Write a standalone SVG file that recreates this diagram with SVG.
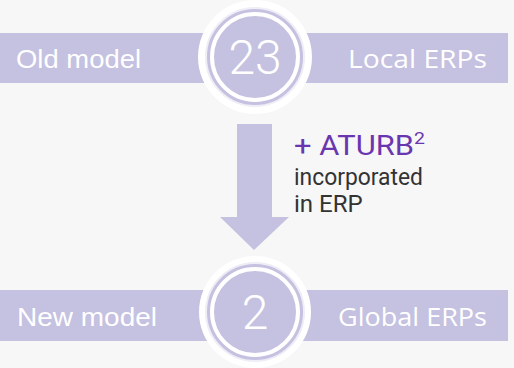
<svg xmlns="http://www.w3.org/2000/svg" width="514" height="368" viewBox="0 0 514 368">
<style>
.band{fill:#c5c1e0}
.lbl{font-family:"Liberation Sans",Arial,sans-serif;font-size:26px;fill:#ffffff}
.lbl2{font-family:"Open Sans","Liberation Sans",sans-serif;font-size:25px;fill:#ffffff}
.num{font-family:Roboto,"Liberation Sans",Arial,sans-serif;font-weight:300;font-size:48px;fill:#ffffff;text-anchor:middle}
.outer{fill:#ffffff}
.disc{fill:#c5c1e0;stroke:#efedf5;stroke-width:2}
.ring{fill:none;stroke:#ffffff;stroke-width:4}
.head{font-family:Roboto,"Liberation Sans",sans-serif;font-size:27px;fill:#6a36b0}
.sub{font-family:Roboto,"Liberation Sans",sans-serif;font-size:24px;fill:#333333}
</style>
<rect width="514" height="368" fill="#f7f7f7"/>
<g id="old">
<rect class="band" x="0" y="33" width="508" height="50"/>
<text class="lbl" x="16" y="68" textLength="125" lengthAdjust="spacingAndGlyphs">Old model</text>
<text class="lbl2" x="348" y="68" textLength="139" lengthAdjust="spacingAndGlyphs">Local ERPs</text>
<circle class="outer" cx="255" cy="57" r="57"/>
<circle class="disc" cx="255" cy="57" r="49"/>
<circle class="ring" cx="255" cy="57" r="43"/>
<text class="num" x="255" y="74">23</text>
</g>
<g id="new">
<rect class="band" x="0" y="290" width="508" height="51"/>
<text class="lbl" x="17" y="326" textLength="140" lengthAdjust="spacingAndGlyphs">New model</text>
<text class="lbl2" x="338" y="326" textLength="149" lengthAdjust="spacingAndGlyphs">Global ERPs</text>
<circle class="outer" cx="255" cy="312" r="56"/>
<circle class="disc" cx="255" cy="312" r="49"/>
<circle class="ring" cx="255" cy="312" r="43"/>
<text class="num" x="255" y="329">2</text>
</g>
<g id="connectors">
<polygon fill="#c5c1e0" points="237,124 272,124 272,217 289,217 254,250 220,217 237,217"/>
</g>
<g id="label">
<text class="head" x="294" y="155" textLength="131" lengthAdjust="spacingAndGlyphs">+ ATURB<tspan font-size="17" dy="-11">2</tspan></text>
<text class="sub" x="294" y="185" textLength="129" lengthAdjust="spacingAndGlyphs">incorporated</text>
<text class="sub" x="294" y="212">in ERP</text>
</g>
</svg>
